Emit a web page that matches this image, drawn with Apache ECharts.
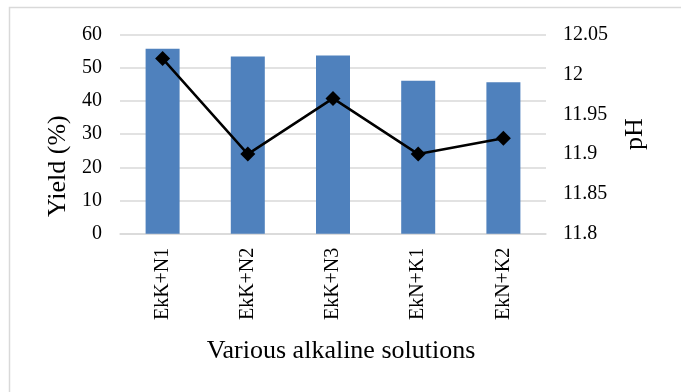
<!DOCTYPE html>
<html>
<head>
<meta charset="utf-8">
<script src="https://cdn.jsdelivr.net/npm/echarts@6/dist/echarts.min.js"></script>
<style>html,body{margin:0;padding:0;background:#fff;}#c{width:681px;height:392px;}</style>
</head>
<body>
<div id="c"></div>
<script>
const categories = ['EkK+N1', 'EkK+N2', 'EkK+N3', 'EkN+K1', 'EkN+K2'];
const yieldValues = [55.8, 53.4, 53.7, 46.1, 45.7];
const phValues = [12.02, 11.90, 11.97, 11.90, 11.92];
const yieldTicks = { min: 0, max: 60, interval: 10 };
const phTicks = { min: 11.8, max: 12.05, interval: 0.05 };

const font = '"Liberation Serif", "Times New Roman", serif';
const chart = echarts.init(document.getElementById('c'), null, { renderer: 'canvas' });
chart.setOption({
  animation: false,
  backgroundColor: '#fff',
  graphic: [{
    type: 'rect', left: 7, top: 5, shape: { x: 0, y: 0, width: 700, height: 400 },
    style: { fill: 'none', stroke: '#d9d9d9', lineWidth: 1.5 }, silent: true, z: -1
  }],
  grid: { left: 120, right: 135, top: 34.7, bottom: 158.3, containLabel: false },
  xAxis: {
    type: 'category', data: categories,
    name: 'Various alkaline solutions', nameLocation: 'middle', nameGap: 104,
    nameTextStyle: { fontFamily: font, fontSize: 26, color: '#000', padding: [0, 0, 0, 16] },
    axisLine: { show: true, lineStyle: { color: '#d9d9d9', width: 1.5 } },
    axisTick: { show: false },
    axisLabel: { rotate: 90, margin: 14, fontFamily: font, fontSize: 20, color: '#000' }
  },
  yAxis: [{
    type: 'value', min: yieldTicks.min, max: yieldTicks.max, interval: yieldTicks.interval,
    name: 'Yield (%)', nameLocation: 'middle', nameGap: 47, nameRotate: 90,
    nameTextStyle: { fontFamily: font, fontSize: 26, color: '#000', padding: [0, 64, 0, 0] },
    axisLine: { show: false }, axisTick: { show: false },
    axisLabel: { margin: 18, fontFamily: font, fontSize: 20, color: '#000' },
    splitLine: { show: true, lineStyle: { color: '#d9d9d9', width: 1.5 } }
  }, {
    type: 'value', min: phTicks.min, max: phTicks.max, interval: phTicks.interval,
    name: 'pH', nameLocation: 'middle', nameGap: 76, nameRotate: 90,
    nameTextStyle: { fontFamily: font, fontSize: 26, color: '#000' },
    axisLine: { show: false }, axisTick: { show: false },
    axisLabel: { margin: 17, fontFamily: font, fontSize: 20, color: '#000',
      formatter: v => String(+v.toFixed(2)) },
    splitLine: { show: false }
  }],
  series: [{
    type: 'bar', data: yieldValues, yAxisIndex: 0,
    barWidth: 34,
    itemStyle: { color: '#4f81bd' }
  }, {
    type: 'line', data: phValues, yAxisIndex: 1,
    symbol: 'diamond', symbolSize: 15,
    lineStyle: { color: '#000', width: 2.5 },
    itemStyle: { color: '#000' }
  }]
});
</script>
</body>
</html>
